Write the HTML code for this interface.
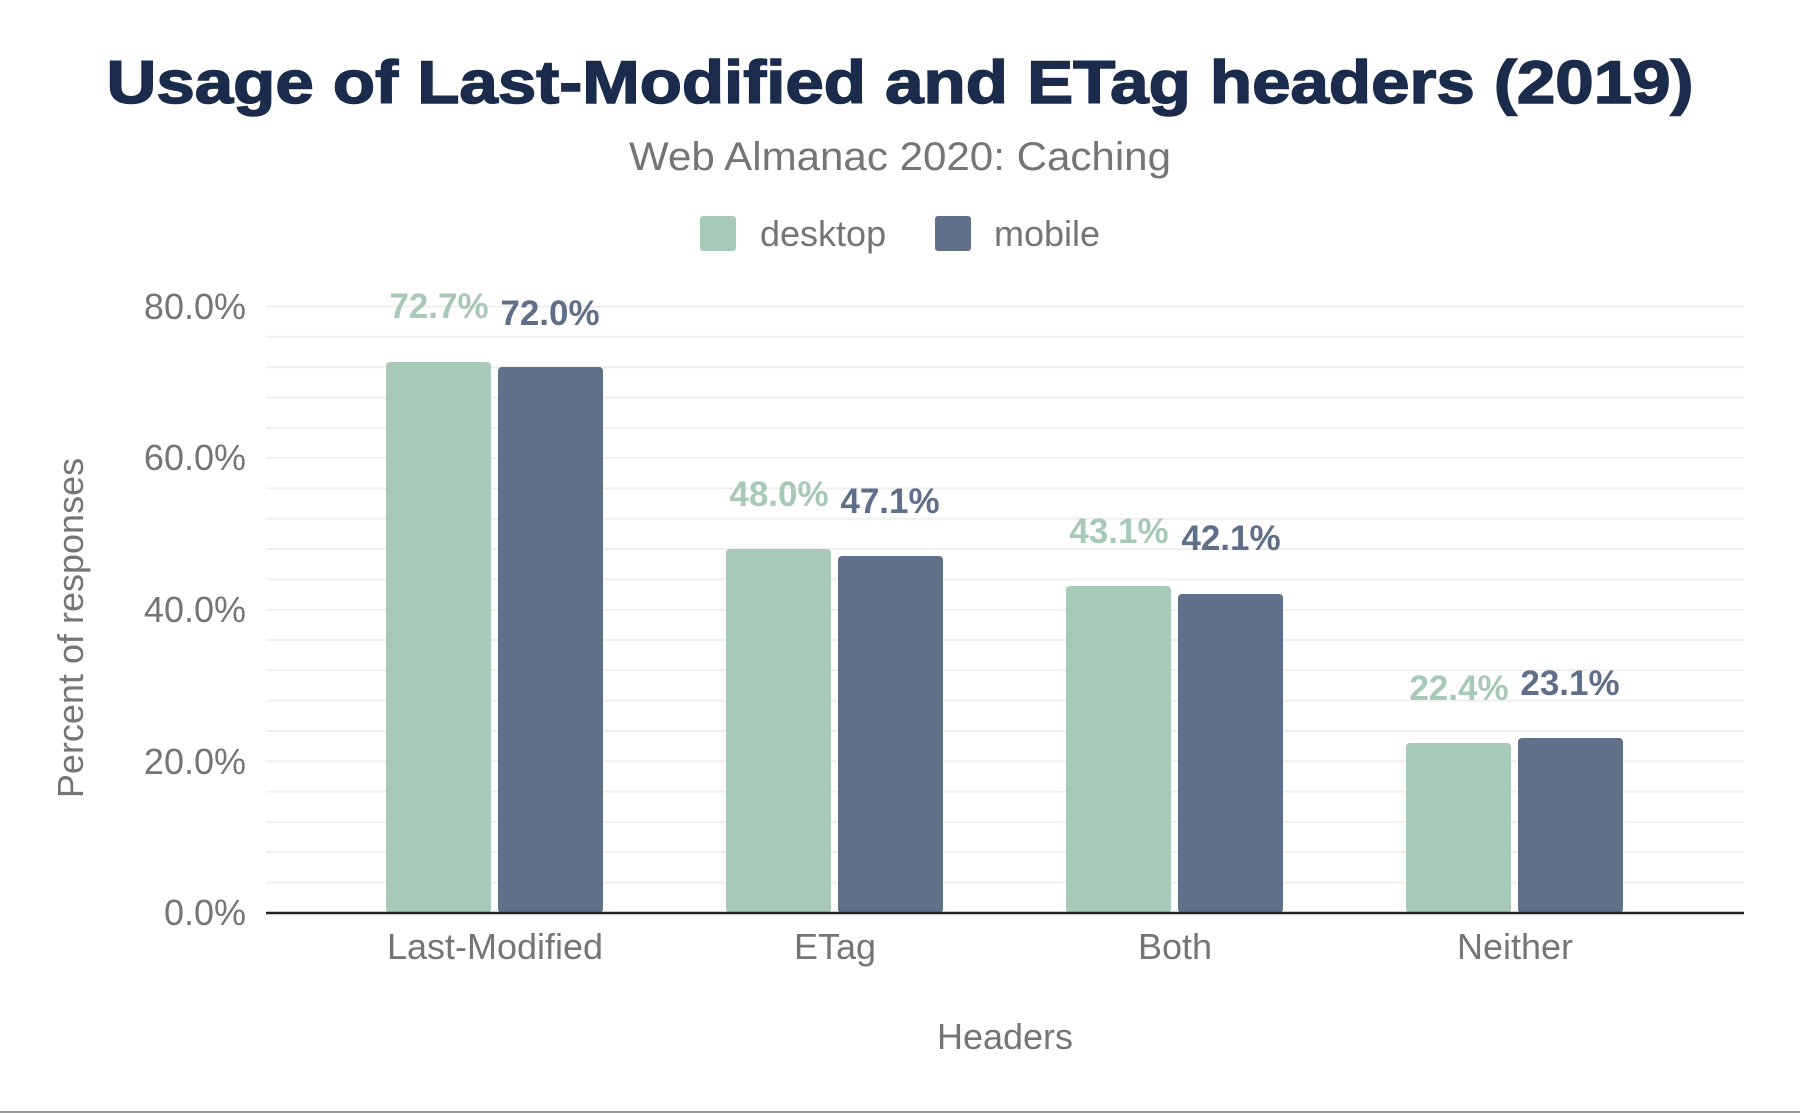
<!DOCTYPE html>
<html><head><meta charset="utf-8"><style>
html,body{margin:0;padding:0;background:#fff;}
svg{display:block;font-family:"Liberation Sans",Arial,sans-serif;}
</style></head><body>
<svg width="1800" height="1113" viewBox="0 0 1800 1113" xmlns="http://www.w3.org/2000/svg">
<rect width="1800" height="1113" fill="#fff"/>
<text x="900" y="103" text-anchor="middle" font-size="60" font-weight="bold" fill="#1a2b4b" textLength="1587" lengthAdjust="spacingAndGlyphs" stroke="#1a2b4b" stroke-width="1.5">Usage of Last-Modified and ETag headers (2019)</text>
<text x="900" y="170" text-anchor="middle" font-size="40" fill="#757575" textLength="542" lengthAdjust="spacingAndGlyphs">Web Almanac 2020: Caching</text>
<rect x="700" y="216" width="36" height="35" rx="3" fill="#a8c9b8"/>
<text x="760" y="246" font-size="36" fill="#757575">desktop</text>
<rect x="935" y="216" width="36" height="35" rx="3" fill="#617089"/>
<text x="994" y="246" font-size="36" fill="#757575">mobile</text>
<g stroke="#efefef" stroke-width="2">
<line x1="266" x2="1744" y1="306.5" y2="306.5"/><line x1="266" x2="1744" y1="336.8" y2="336.8"/><line x1="266" x2="1744" y1="367.1" y2="367.1"/><line x1="266" x2="1744" y1="397.5" y2="397.5"/><line x1="266" x2="1744" y1="427.8" y2="427.8"/><line x1="266" x2="1744" y1="458.1" y2="458.1"/><line x1="266" x2="1744" y1="488.4" y2="488.4"/><line x1="266" x2="1744" y1="518.7" y2="518.7"/><line x1="266" x2="1744" y1="549" y2="549"/><line x1="266" x2="1744" y1="579.4" y2="579.4"/><line x1="266" x2="1744" y1="609.7" y2="609.7"/><line x1="266" x2="1744" y1="640" y2="640"/><line x1="266" x2="1744" y1="670.3" y2="670.3"/><line x1="266" x2="1744" y1="700.6" y2="700.6"/><line x1="266" x2="1744" y1="731" y2="731"/><line x1="266" x2="1744" y1="761.3" y2="761.3"/><line x1="266" x2="1744" y1="791.6" y2="791.6"/><line x1="266" x2="1744" y1="821.9" y2="821.9"/><line x1="266" x2="1744" y1="852.2" y2="852.2"/><line x1="266" x2="1744" y1="882.6" y2="882.6"/>
</g>
<g font-size="36" fill="#757575" text-anchor="end">
<text x="246" y="319">80.0%</text><text x="246" y="470">60.0%</text><text x="246" y="622">40.0%</text><text x="246" y="774">20.0%</text><text x="246" y="925">0.0%</text>
</g>
<text transform="translate(83,628) rotate(-90)" text-anchor="middle" font-size="36" fill="#757575">Percent of responses</text>
<g>
<rect x="386" y="362" width="105" height="551" rx="4" fill="#a8c9b8"/>
<rect x="498" y="367" width="105" height="546" rx="4" fill="#617089"/>
<rect x="726" y="549" width="105" height="364" rx="4" fill="#a8c9b8"/>
<rect x="838" y="556" width="105" height="357" rx="4" fill="#617089"/>
<rect x="1066" y="586" width="105" height="327" rx="4" fill="#a8c9b8"/>
<rect x="1178" y="594" width="105" height="319" rx="4" fill="#617089"/>
<rect x="1406" y="743" width="105" height="170" rx="4" fill="#a8c9b8"/>
<rect x="1518" y="738" width="105" height="175" rx="4" fill="#617089"/>
</g>
<line x1="266" x2="1744" y1="913" y2="913" stroke="#222" stroke-width="2.5"/>
<g font-size="35" font-weight="bold" text-anchor="middle">
<text x="439" y="318" fill="#a8c9b8">72.7%</text><text x="550" y="325" fill="#5f6f8a">72.0%</text>
<text x="779" y="506" fill="#a8c9b8">48.0%</text><text x="890" y="513" fill="#5f6f8a">47.1%</text>
<text x="1119" y="543" fill="#a8c9b8">43.1%</text><text x="1231" y="550" fill="#5f6f8a">42.1%</text>
<text x="1459" y="700" fill="#a8c9b8">22.4%</text><text x="1570" y="695" fill="#5f6f8a">23.1%</text>
</g>
<g font-size="36" fill="#757575" text-anchor="middle">
<text x="495" y="959">Last-Modified</text><text x="835" y="959">ETag</text><text x="1175" y="959">Both</text><text x="1515" y="959">Neither</text>
</g>
<text x="1005" y="1049" text-anchor="middle" font-size="36" fill="#757575">Headers</text>
<line x1="0" x2="1800" y1="1112" y2="1112" stroke="#999" stroke-width="2"/>
</svg>
</body></html>
